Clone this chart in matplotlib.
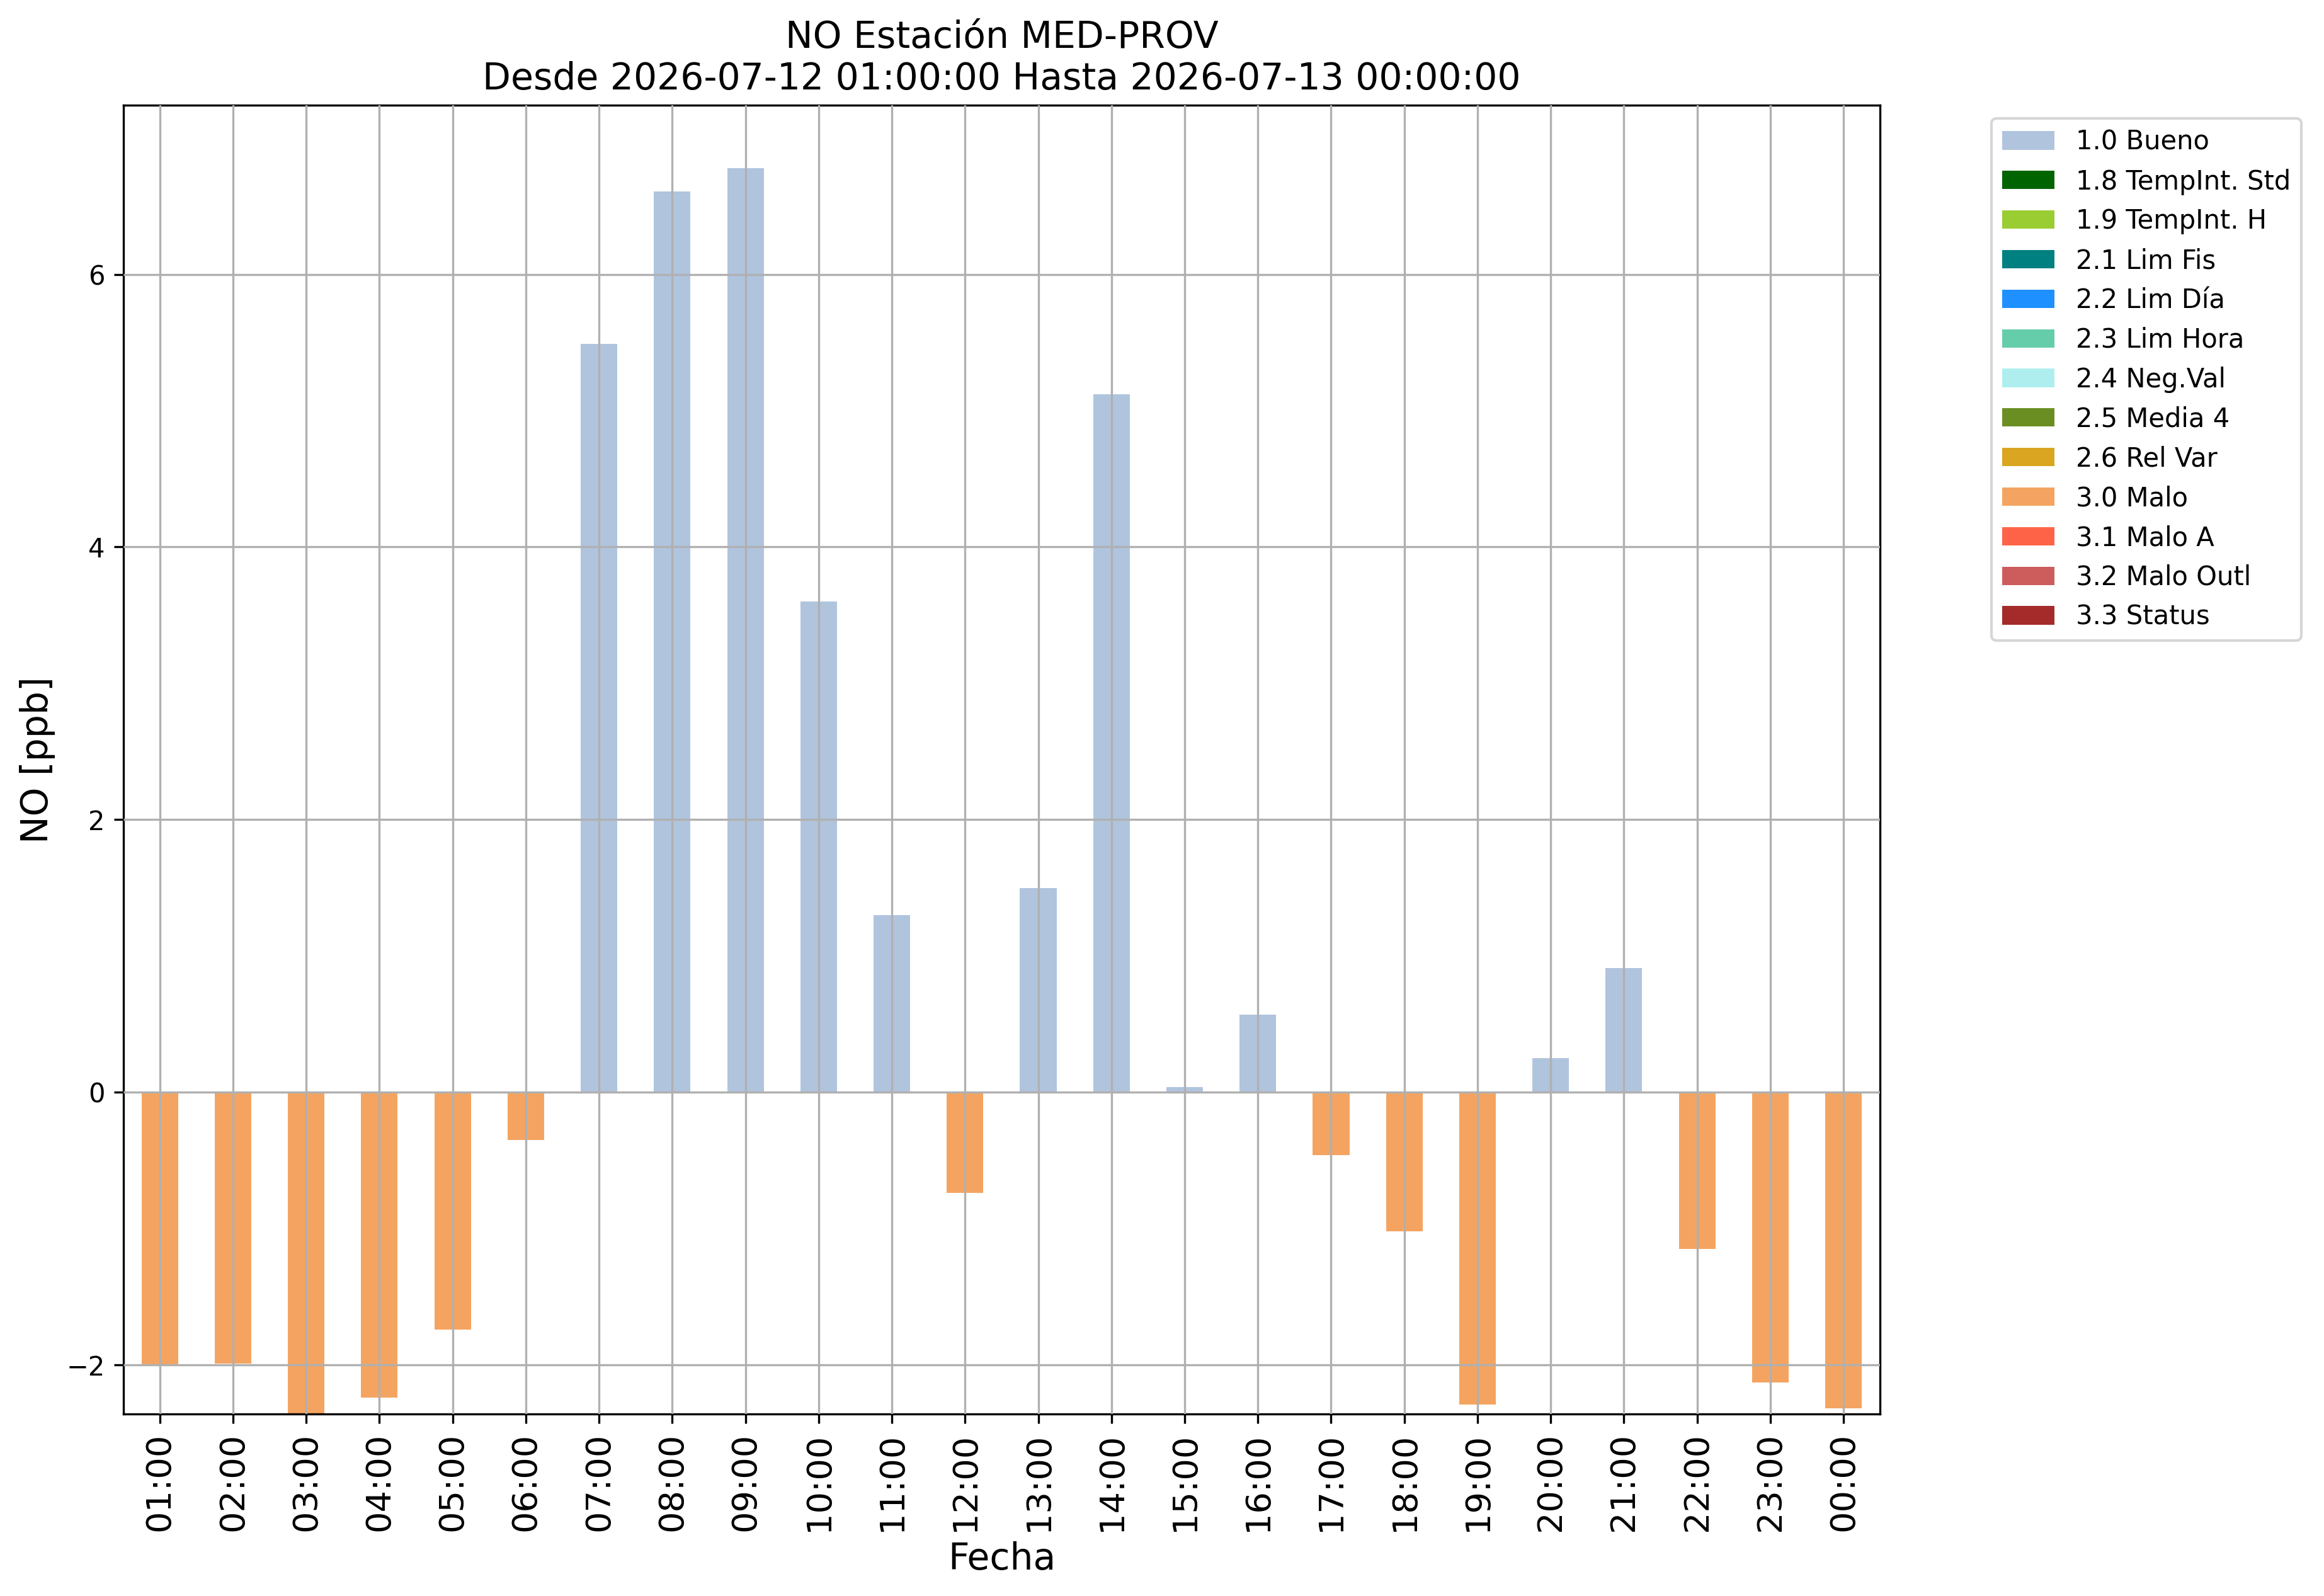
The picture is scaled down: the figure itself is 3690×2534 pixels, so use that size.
import numpy as np
import matplotlib
matplotlib.use('Agg')
import matplotlib.pyplot as plt
from matplotlib.patches import Patch

# ── data ────────────────────────────────────────────────────────────────────
horas = ['01:00', '02:00', '03:00', '04:00', '05:00', '06:00', '07:00', '08:00',
         '09:00', '10:00', '11:00', '12:00', '13:00', '14:00', '15:00', '16:00',
         '17:00', '18:00', '19:00', '20:00', '21:00', '22:00', '23:00', '00:00']
no_ppb = [-2.00, -1.99, -2.45, -2.24, -1.74, -0.35, 5.49, 6.61,
          6.78, 3.60, 1.30, -0.74, 1.50, 5.12, 0.04, 0.57,
          -0.46, -1.02, -2.29, 0.25, 0.91, -1.15, -2.13, -2.32]
flag = [3.0, 3.0, 3.0, 3.0, 3.0, 3.0, 1.0, 1.0,
        1.0, 1.0, 1.0, 3.0, 1.0, 1.0, 1.0, 1.0,
        3.0, 3.0, 3.0, 1.0, 1.0, 3.0, 3.0, 3.0]

flag_codes = [1.0, 1.8, 1.9, 2.1, 2.2, 2.3, 2.4, 2.5, 2.6, 3.0, 3.1, 3.2, 3.3]
flag_names = ['1.0 Bueno', '1.8 TempInt. Std', '1.9 TempInt. H', '2.1 Lim Fis',
              '2.2 Lim Día', '2.3 Lim Hora', '2.4 Neg.Val', '2.5 Media 4',
              '2.6 Rel Var', '3.0 Malo', '3.1 Malo A', '3.2 Malo Outl',
              '3.3 Status']
flag_colors = ['lightsteelblue', 'darkgreen', 'yellowgreen', 'teal',
               'dodgerblue', 'mediumaquamarine', 'paleturquoise', 'olivedrab',
               'goldenrod', 'sandybrown', 'tomato', 'indianred', 'brown']

# ── figure ──────────────────────────────────────────────────────────────────
fig, ax = plt.subplots(figsize=(12.3, 8.447), dpi=300)
fig.subplots_adjust(left=0.053, right=0.809, top=0.934, bottom=0.114)

x = np.arange(len(horas))
vals = np.array(no_ppb)
flg = np.array(flag)

handles = []
for code, name, col in zip(flag_codes, flag_names, flag_colors):
    mask = flg == code
    if mask.any():
        ax.bar(x[mask], vals[mask], width=0.5, color=col, zorder=1)
    handles.append(Patch(facecolor=col, label=name))

ax.set_xlim(-0.5, len(horas) - 0.5)
ax.set_ylim(-2.36, 7.24)
ax.set_xticks(x)
ax.set_xticklabels(horas, rotation=90, fontsize=13)
ax.tick_params(axis='y', labelsize=10)
ax.grid(True, color='#b0b0b0', lw=0.8, zorder=2)
ax.set_axisbelow(False)

ax.set_xlabel('Fecha', fontsize=14)
ax.set_ylabel('NO [ppb]', fontsize=14)
ax.set_title('NO Estación MED-PROV\n'
             'Desde 2026-07-12 01:00:00 Hasta 2026-07-13 00:00:00',
             fontsize=14)

ax.legend(handles=handles, bbox_to_anchor=(1.056, 1), loc='upper left',
          fontsize=10)

fig.savefig('out.png', dpi=300)
